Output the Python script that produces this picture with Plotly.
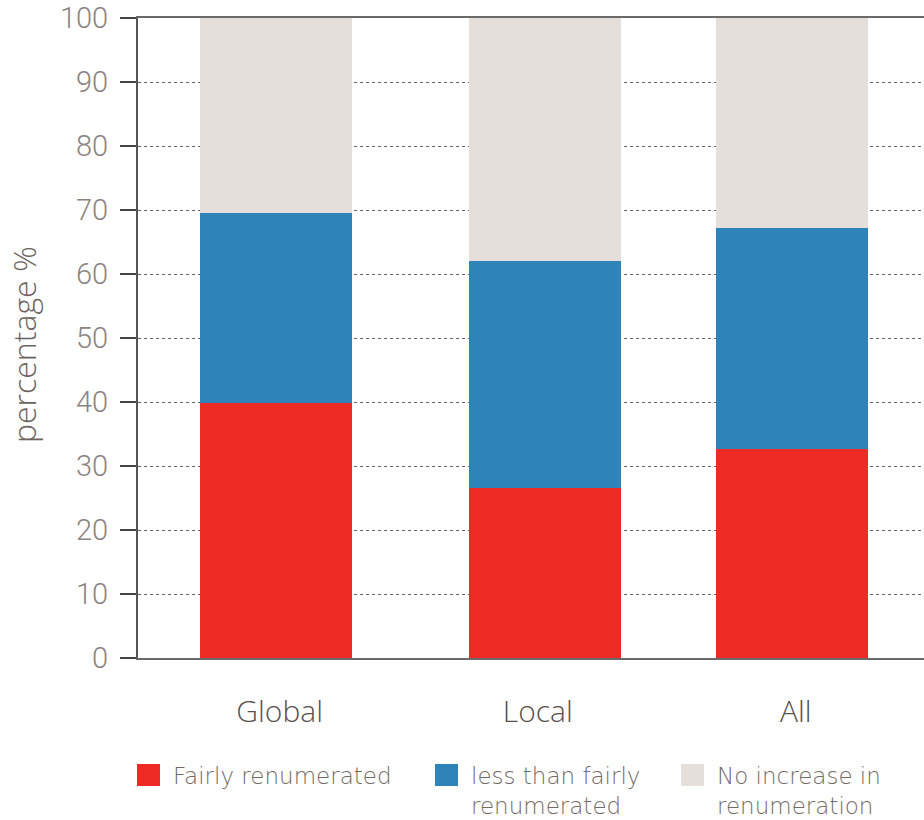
import plotly.graph_objects as go

categories = ["Global", "Local", "All"]
series_names = ["Fairly renumerated", "less than fairly renumerated", "No increase in renumeration"]
legend_labels = ["Fairly renumerated", "less than fairly<br>renumerated", "No increase in<br>renumeration"]
fairly = [39.8, 26.6, 32.7]
less_than_fairly = [29.7, 35.5, 34.5]
no_increase = [30.5, 37.9, 32.8]
y_ticks = [0, 10, 20, 30, 40, 50, 60, 70, 80, 90, 100]

colors = ["#EE2A24", "#2E84B9", "#E4DFDB"]
W, H = 924, 820
L, R, T, B = 138, 0, 18, 162
PW, PH = W - L - R, H - T - B
FONT = "Open Sans"
BAR_W = 0.59
bar_offsets = [-0.309, -0.267, -0.309]

def px(x):
    return (x - L) / PW

def py(y):
    return (H - B - y) / PH

fig = go.Figure()
for name, vals, c in zip(series_names, [fairly, less_than_fairly, no_increase], colors):
    fig.add_trace(go.Bar(x=categories, y=vals, name=name, marker=dict(color=c, line=dict(width=0)),
                         width=BAR_W, offset=bar_offsets, showlegend=False))

fig.update_layout(
    width=W, height=H,
    margin=dict(l=L, r=R, t=T, b=B, autoexpand=False),
    barmode="stack",
    plot_bgcolor="white", paper_bgcolor="white",
    xaxis=dict(type="category", range=[-0.549, 2.497], showline=True, mirror=True,
               linecolor="#6a6a6a", linewidth=1.5, showgrid=False, ticks="",
               tickfont=dict(family=FONT, size=30, color="#5a504c", weight=300),
               ticklabelstandoff=26, zeroline=False),
    yaxis=dict(range=[0, 100], tickvals=y_ticks, ticks="outside", ticklen=16, tickwidth=2,
               tickcolor="#444444", showline=True, linecolor="#555555", linewidth=2,
               showgrid=True, gridcolor="#666666", gridwidth=1, griddash="dot",
               tickfont=dict(family="Roboto", size=29, color="#8c8480", weight=300),
               ticklabelstandoff=6, ticklabeloverflow="allow", zeroline=False),
)

fig.add_annotation(text="percentage %", xref="paper", yref="paper", x=px(23), y=py(345),
                   xanchor="center", yanchor="middle", textangle=-90, showarrow=False,
                   font=dict(family=FONT, size=32, color="#6b6360", weight=300))

leg_x = [137, 435, 681]
for lx, lab, c in zip(leg_x, legend_labels, colors):
    fig.add_shape(type="rect", xref="paper", yref="paper", x0=px(lx), x1=px(lx + 23),
                  y0=py(786), y1=py(764), fillcolor=c, line=dict(width=0), layer="above")
    fig.add_annotation(text=lab, xref="paper", yref="paper", x=px(lx + 35), y=py(762),
                       xanchor="left", yanchor="top", align="left", showarrow=False, borderpad=0,
                       font=dict(family="DejaVu Sans", size=23, color="#736a66", weight=200))

fig.write_html("out.html")
